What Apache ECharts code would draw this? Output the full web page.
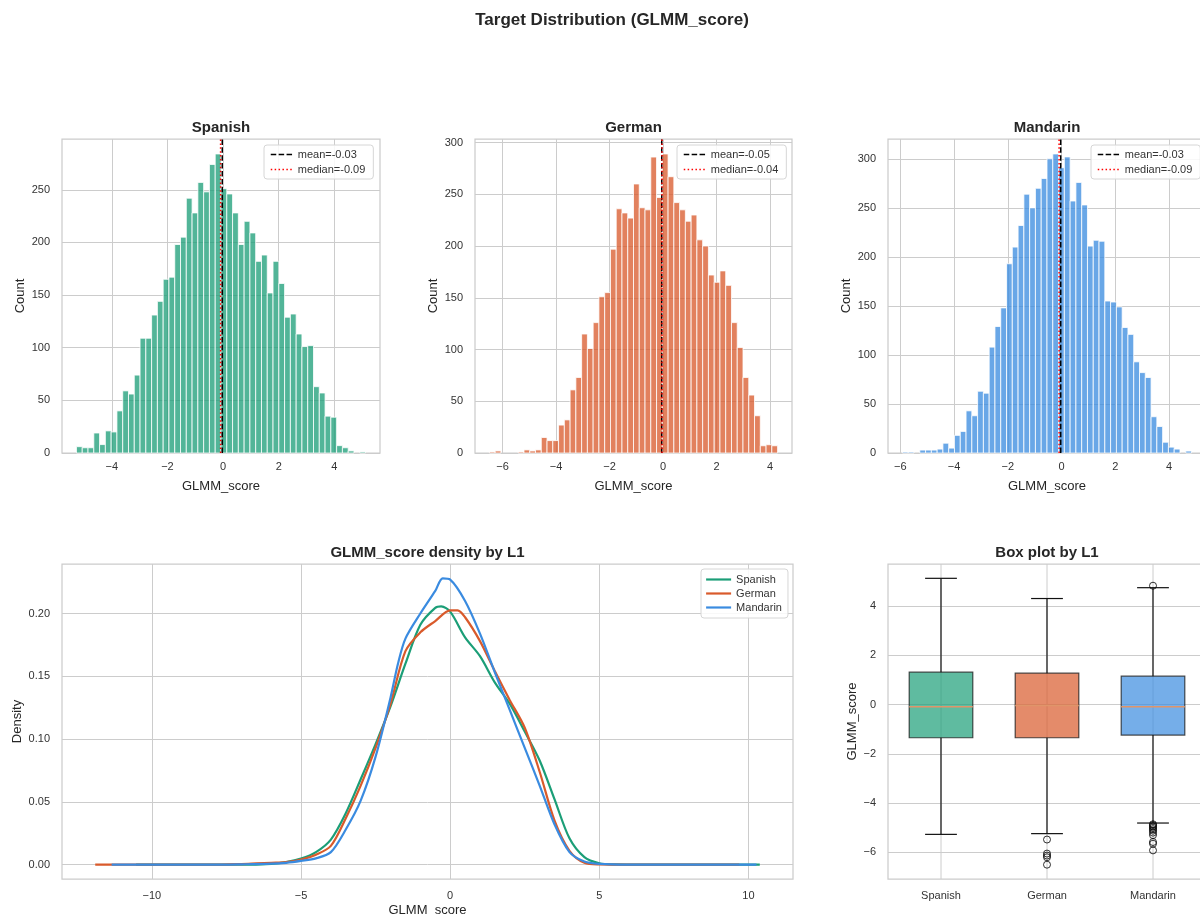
<!DOCTYPE html>
<html><head><meta charset="utf-8">
<script src="https://cdn.jsdelivr.net/npm/echarts@6/dist/echarts.min.js"></script>
<style>html,body{margin:0;padding:0;background:#fff}#c{width:1200px;height:916px}</style>
</head><body><div id="c"></div>
<script>
// ---------------- data ----------------
const languages = ['Spanish', 'German', 'Mandarin'];
const colors = ['#1b9e77', '#d95a2b', '#3a8be0'];

// histogram counts (50 bins each)
const spanishCounts = [6,5,5,19,8,21,20,40,59,56,74,109,109,131,144,165,167,198,205,242,228,257,248,274,284,251,246,228,198,220,209,182,188,152,182,161,129,132,113,101,102,63,57,35,34,7,5,2,0,1];
const germanCounts = [1,2,0,0,0,1,3,2,3,15,12,12,27,32,61,73,115,101,126,151,155,197,236,232,227,260,237,235,286,247,289,267,242,235,224,230,206,200,172,165,176,162,126,102,73,56,36,7,8,7];
const mandarinCounts = [1,1,0,3,3,3,4,10,5,18,22,43,38,63,61,108,129,148,193,210,232,264,250,270,280,300,305,291,302,257,276,253,211,217,216,155,154,149,128,121,93,82,77,37,27,11,6,4,0,2];
// data min / max of each language (histogram range)
const spanishRange = [-5.27, 5.12];
const germanRange = [-6.49, 4.28];
const mandarinRange = [-5.92, 4.84];
const meanValues = [-0.03, -0.05, -0.03];
const medianValues = [-0.09, -0.04, -0.09];

// tick labels
const spanishXTicks = [-4, -2, 0, 2, 4];
const germanXTicks = [-6, -4, -2, 0, 2, 4];
const mandarinXTicks = [-6, -4, -2, 0, 2, 4];
const spanishYTicks = [0, 50, 100, 150, 200, 250];
const germanYTicks = [0, 50, 100, 150, 200, 250, 300];
const mandarinYTicks = [0, 50, 100, 150, 200, 250, 300];
const densityXTicks = [-10, -5, 0, 5, 10];
const densityYTicks = [0, 0.05, 0.10, 0.15, 0.20];
const boxYTicks = [-6, -4, -2, 0, 2, 4];

// KDE curves
const spanishKdeX = [-10.53, -7, -6, -5.5, -5, -4.5, -4, -3.5, -3, -2.5, -2, -1.5, -1, -0.5, -0.3, 0, 0.5, 1, 1.5, 2, 2.5, 3, 3.5, 4, 4.5, 5, 5.5, 6.5, 10.38];
const spanishKde  = [0, 0, 0.0007, 0.002, 0.0048, 0.010, 0.020, 0.041, 0.068, 0.096, 0.126, 0.160, 0.191, 0.2045, 0.2056, 0.2015, 0.181, 0.166, 0.145, 0.128, 0.106, 0.083, 0.052, 0.021, 0.006, 0.0011, 0.0002, 0, 0];
const germanKdeX = [-11.9, -8, -7, -6.5, -6, -5.5, -5, -4.5, -4, -3.5, -3, -2.5, -2, -1.5, -1, -0.5, 0, 0.25, 0.5, 1, 1.5, 2, 2.5, 3, 3.5, 4, 4.5, 5, 6, 9.69];
const germanKde  = [0, 0, 0.0005, 0.001, 0.0015, 0.002, 0.004, 0.008, 0.015, 0.037, 0.063, 0.093, 0.128, 0.170, 0.185, 0.194, 0.2025, 0.2025, 0.197, 0.178, 0.154, 0.131, 0.109, 0.074, 0.035, 0.011, 0.0015, 0.0002, 0, 0];
const mandarinKdeX = [-11.35, -8, -7, -6, -5.5, -5, -4.5, -4, -3.5, -3, -2.5, -2, -1.75, -1.5, -1, -0.5, -0.25, 0, 0.5, 1, 1.5, 2, 2.5, 3, 3.5, 4, 4.5, 5, 6, 10.27];
const mandarinKde  = [0, 0, 0.0003, 0.0008, 0.0015, 0.003, 0.005, 0.010, 0.028, 0.051, 0.086, 0.133, 0.160, 0.180, 0.200, 0.218, 0.228, 0.227, 0.210, 0.184, 0.153, 0.123, 0.093, 0.063, 0.032, 0.010, 0.0025, 0.0006, 0, 0];

// box plot stats: [lower whisker, Q1, median, Q3, upper whisker]
const spanishBox = [-5.27, -1.35, -0.09, 1.31, 5.12];
const germanBox = [-5.24, -1.35, -0.04, 1.27, 4.30];
const mandarinBox = [-4.81, -1.24, -0.09, 1.15, 4.74];
const spanishOutliers = [];
const germanOutliers = [-5.48, -6.05, -6.13, -6.2, -6.5];
const mandarinOutliers = [4.82, -4.86, -4.9, -4.95, -5.0, -5.06, -5.12, -5.2, -5.3, -5.58, -5.65, -5.92];

// ---------------- chart ----------------
const FONT = '"Liberation Sans", Arial, Helvetica, sans-serif';
const TXT = '#262626';
const GRIDC = '#cccccc';
const histCounts = [spanishCounts, germanCounts, mandarinCounts];
const histRanges = [spanishRange, germanRange, mandarinRange];
const histXTicks = [spanishXTicks, germanXTicks, mandarinXTicks];
const histYTicks = [spanishYTicks, germanYTicks, mandarinYTicks];
const kdeXs = [spanishKdeX, germanKdeX, mandarinKdeX];
const kdeYs = [spanishKde, germanKde, mandarinKde];
const boxes = [spanishBox, germanBox, mandarinBox];
const outliers = [spanishOutliers, germanOutliers, mandarinOutliers];

const minus = v => String(v).replace('-', '\u2212');
function rgba(hex, a) {
  const n = parseInt(hex.slice(1), 16);
  return `rgba(${(n >> 16) & 255},${(n >> 8) & 255},${n & 255},${a})`;
}
const padRange = (lo, hi) => { const p = (hi - lo) * 0.05; return [lo - p, hi + p]; };

const gridBase = {show: true, borderColor: GRIDC, borderWidth: 1.25, backgroundColor: '#fff', containLabel: false, outerBoundsMode: 'none'};
const grids = [
  {left: 62, top: 139, width: 318, height: 314},
  {left: 475, top: 139, width: 317, height: 314},
  {left: 888, top: 139, width: 318, height: 314},
  {left: 62, top: 564, width: 731, height: 315},
  {left: 888, top: 564, width: 318, height: 315}
].map(g => Object.assign({}, gridBase, g));

function valAxis(gridIndex, min, max, ticks, fmt, name, nameGap, labelMargin) {
  return {
    type: 'value', gridIndex, min, max,
    name, nameLocation: 'middle', nameGap, nameMoveOverlap: false,
    nameTextStyle: {fontSize: 13, color: TXT, fontFamily: FONT},
    axisLine: {show: false},
    axisTick: {show: false, customValues: ticks},
    axisLabel: {customValues: ticks, formatter: fmt, fontSize: 11, color: '#333', fontFamily: FONT, margin: labelMargin},
    splitLine: {show: true, lineStyle: {color: GRIDC, width: 1}}
  };
}

const legendBase = {
  orient: 'vertical', itemHeight: 12, selectedMode: false,
  backgroundColor: 'rgba(255,255,255,0.85)', borderColor: '#d6d6d6', borderWidth: 1, borderRadius: 3,
  itemStyle: {opacity: 0},
  textStyle: {fontSize: 11, color: '#333', fontFamily: FONT}
};

const xAxes = [], yAxes = [], series = [], legends = [];
const histLegendPos = [[264, 145], [677, 145], [1091, 145]];

languages.forEach((lang, i) => {
  const r = histRanges[i];
  const xl = padRange(r[0], r[1]);
  const yMax = Math.max(...histCounts[i]) * 1.05;
  xAxes.push(valAxis(i, xl[0], xl[1], histXTicks[i], minus, 'GLMM_score', 27, 8));
  yAxes.push(valAxis(i, 0, yMax, histYTicks[i], v => String(v), 'Count', 35, 12));
  const counts = histCounts[i];
  const w = (r[1] - r[0]) / counts.length;
  series.push({
    type: 'custom', name: lang + ' hist', xAxisIndex: i, yAxisIndex: i, silent: true,
    data: counts.map((c, k) => [r[0] + k * w, r[0] + (k + 1) * w, c]),
    encode: {x: [0, 1], y: 2},
    renderItem: (params, api) => {
      if (api.value(2) <= 0) return null;
      const a = api.coord([api.value(0), api.value(2)]);
      const b = api.coord([api.value(1), 0]);
      return {type: 'rect', shape: {x: a[0], y: a[1], width: b[0] - a[0], height: b[1] - a[1]},
        style: {fill: rgba(colors[i], 0.76), stroke: '#ffffff', lineWidth: 0.8}};
    }
  });
  const meanName = 'mean=' + meanValues[i].toFixed(2);
  const medName = 'median=' + medianValues[i].toFixed(2);
  series.push({
    type: 'line', name: meanName, xAxisIndex: i, yAxisIndex: i, symbol: 'none', silent: true, z: 4,
    data: [[meanValues[i], 0], [meanValues[i], yMax]],
    itemStyle: {color: '#000'}, lineStyle: {color: '#000', width: 1.5, type: [5.5, 2.4]}
  });
  series.push({
    type: 'line', name: medName, xAxisIndex: i, yAxisIndex: i, symbol: 'none', silent: true, z: 5,
    data: [[medianValues[i], 0], [medianValues[i], yMax]],
    itemStyle: {color: '#ff0000'}, lineStyle: {color: '#ff0000', width: 1.5, type: [1.5, 2.4]}
  });
  legends.push(Object.assign({}, legendBase, {
    data: [meanName, medName], left: histLegendPos[i][0], top: histLegendPos[i][1],
    itemWidth: 22, itemGap: 4, padding: [4, 8, 4, 6],
    lineStyle: {width: 'inherit', type: 'inherit'}
  }));
});

// density
const allKdeX = [].concat(...kdeXs);
const dXl = padRange(Math.min(...allKdeX), Math.max(...allKdeX));
const dMax = Math.max(...[].concat(...kdeYs));
xAxes.push(valAxis(3, dXl[0], dXl[1], densityXTicks, minus, 'GLMM_score', 25, 11));
yAxes.push(valAxis(3, -0.05 * dMax, 1.05 * dMax, densityYTicks, v => v.toFixed(2), 'Density', 38, 12));
languages.forEach((lang, i) => {
  series.push({
    type: 'line', name: lang, xAxisIndex: 3, yAxisIndex: 3, symbol: 'none', smooth: 0.3, silent: true, z: 3,
    data: kdeXs[i].map((x, j) => [x, kdeYs[i][j]]),
    itemStyle: {color: colors[i]}, lineStyle: {color: colors[i], width: 2.2}
  });
});
legends.push(Object.assign({}, legendBase, {
  data: languages, left: 701, top: 569,
  itemWidth: 25, itemGap: 3, padding: [5, 6, 5, 4],
  lineStyle: {width: 'inherit'}
}));

// box plot
const allBoxVals = [].concat(...boxes, ...outliers);
const bYl = padRange(Math.min(...allBoxVals), Math.max(...allBoxVals));
xAxes.push({
  type: 'category', gridIndex: 4, data: languages, boundaryGap: true,
  axisLine: {show: false}, axisTick: {show: false}, splitLine: {show: false},
  axisLabel: {fontSize: 11, color: '#333', fontFamily: FONT, margin: 11}
});
yAxes.push(valAxis(4, bYl[0], bYl[1], boxYTicks, minus, 'GLMM_score', 29, 12));
series.push({
  type: 'custom', name: 'box', xAxisIndex: 4, yAxisIndex: 4, silent: true, z: 3,
  data: boxes.map((b, i) => [i].concat(b)),
  encode: {x: 0, y: [1, 2, 3, 4, 5]},
  renderItem: (params, api) => {
    const i = api.value(0);
    const P = k => api.coord([i, api.value(k)]);
    const low = P(1), q1 = P(2), med = P(3), q3 = P(4), high = P(5);
    const band = api.size([1, 0])[0];
    const cx = low[0], bw = band * 0.6, cw = band * 0.3;
    const cs = params.coordSys;
    const blk = {stroke: '#111', lineWidth: 1.2};
    return {type: 'group', children: [
      {type: 'line', shape: {x1: cx, y1: cs.y, x2: cx, y2: cs.y + cs.height}, style: {stroke: GRIDC, lineWidth: 1}},
      {type: 'line', shape: {x1: cx, y1: q3[1], x2: cx, y2: high[1]}, style: blk},
      {type: 'line', shape: {x1: cx, y1: q1[1], x2: cx, y2: low[1]}, style: blk},
      {type: 'line', shape: {x1: cx - cw / 2, y1: high[1], x2: cx + cw / 2, y2: high[1]}, style: blk},
      {type: 'line', shape: {x1: cx - cw / 2, y1: low[1], x2: cx + cw / 2, y2: low[1]}, style: blk},
      {type: 'rect', shape: {x: cx - bw / 2, y: q3[1], width: bw, height: q1[1] - q3[1]},
        style: {fill: rgba(colors[i], 0.7), stroke: 'rgba(20,20,20,0.75)', lineWidth: 1.2}},
      {type: 'line', shape: {x1: cx - bw / 2, y1: med[1], x2: cx + bw / 2, y2: med[1]}, style: {stroke: '#e0956a', lineWidth: 1.5}}
    ]};
  }
});
series.push({
  type: 'scatter', name: 'outliers', xAxisIndex: 4, yAxisIndex: 4, silent: true, z: 4,
  symbol: 'circle', symbolSize: 7,
  data: [].concat(...outliers.map((o, i) => o.map(v => [i, v]))),
  itemStyle: {color: 'rgba(0,0,0,0)', borderColor: '#000', borderWidth: 1}
});

// titles
const ttl = (text, x, y, size) => ({
  type: 'text', x, y, silent: true,
  style: {text, font: `bold ${size}px ${FONT}`, fill: TXT, textAlign: 'center', align: 'center', textVerticalAlign: 'middle', verticalAlign: 'middle'}
});
const graphic = [
  ttl('Target Distribution (GLMM_score)', 612, 20, 17),
  ttl('Spanish', 221, 128, 15),
  ttl('German', 633.5, 128, 15),
  ttl('Mandarin', 1047, 128, 15),
  ttl('GLMM_score density by L1', 427.5, 553, 15),
  ttl('Box plot by L1', 1047, 553, 15)
];

const chart = echarts.init(document.getElementById('c'), null, {renderer: 'canvas'});
chart.setOption({
  animation: false,
  backgroundColor: '#ffffff',
  textStyle: {fontFamily: FONT},
  grid: grids, xAxis: xAxes, yAxis: yAxes, series, legend: legends, graphic
});
</script></body></html>
